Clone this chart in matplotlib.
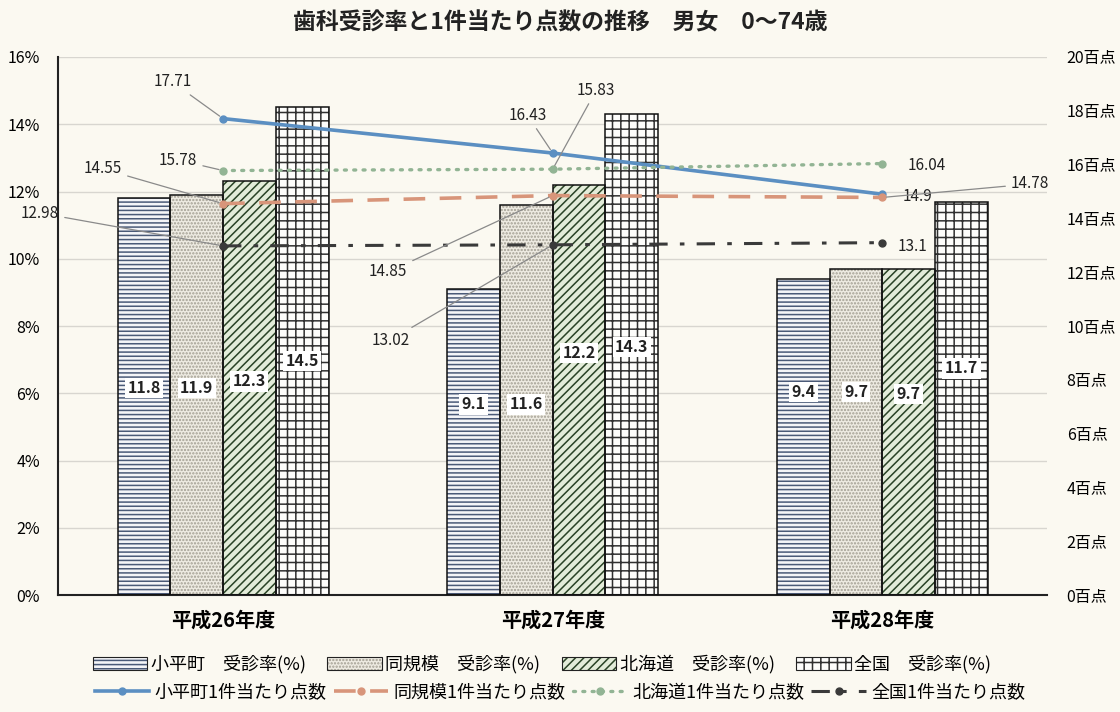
import numpy as np
import matplotlib
matplotlib.use('Agg')
import matplotlib.pyplot as plt
from matplotlib.patches import Patch
from matplotlib.legend_handler import HandlerTuple

plt.rcParams['font.family'] = ['Noto Sans CJK JP', 'DejaVu Sans']
plt.rcParams['hatch.linewidth'] = 1.1

years = ['平成26年度', '平成27年度', '平成28年度']

# 受診率(%)
rate_kohira = [11.8, 9.1, 9.4]
rate_same = [11.9, 11.6, 9.7]
rate_hokkaido = [12.3, 12.2, 9.7]
rate_zenkoku = [14.5, 14.3, 11.7]

# 1件当たり点数(百点)
pts_kohira = [17.71, 16.43, 14.9]
pts_same = [14.55, 14.85, 14.78]
pts_hokkaido = [15.78, 15.83, 16.04]
pts_zenkoku = [12.98, 13.02, 13.1]

# heights (%) where the bar value labels sit
rate_label_y = [[6.16, 5.68, 6.04],
                [6.16, 5.68, 6.04],
                [6.36, 7.20, 5.98],
                [6.96, 7.38, 6.75]]

bg = '#fbf9f1'
fig = plt.figure(figsize=(11.2, 7.12), dpi=100, facecolor=bg)
ax = fig.add_axes([0.052, 0.164, 0.883, 0.756], facecolor=bg)
ax2 = ax.twinx()

x = np.arange(len(years))
w = 0.16
bar_styles = [
    # face, hatch colour, hatch
    ('#f4f5f8', '#4a5a78', '----'),
    ('#eeebe2', '#a29e92', '.....'),
    ('#e3ecd9', '#2a4326', '////'),
    ('#fdfdfb', '#303030', '++'),
]
rates = [rate_kohira, rate_same, rate_hokkaido, rate_zenkoku]
for i, (vals, (fc, hc, h)) in enumerate(zip(rates, bar_styles)):
    pos = x + (i - 1.5) * w
    ax.bar(pos, vals, w, color=fc, edgecolor=hc, hatch=h, lw=0, zorder=2)
    ax.bar(pos, vals, w, color='none', edgecolor='#111111', lw=1.1, zorder=3)
    for j in range(len(x)):
        ax.text(pos[j], rate_label_y[i][j], f'{vals[j]}', ha='center', va='center',
                fontsize=11.5, fontweight='bold', color='#222222', zorder=4,
                bbox=dict(boxstyle='square,pad=0.15', fc='white', ec='none'))

ax.set_xlim(-0.5, 2.5)
ax.set_ylim(0, 16)
ax.set_yticks(np.arange(0, 17, 2))
ax.set_yticklabels([f'{v}%' for v in range(0, 17, 2)])
ax.set_xticks(x)
ax.set_xticklabels(years, fontsize=14.5, fontweight='bold')
ax.tick_params(axis='x', length=0, pad=10)
ax.tick_params(axis='y', length=0, labelsize=11.5, pad=13)
ax.grid(axis='y', color='#d8d6d0', lw=1)
ax.set_axisbelow(True)
for s in ['top', 'right']:
    ax.spines[s].set_visible(False)
for s in ['left', 'bottom']:
    ax.spines[s].set_color('#222222')
    ax.spines[s].set_linewidth(1.5)

# lines on the right axis
l1, = ax2.plot(x, pts_kohira, color='#5b8fc2', lw=2.6, marker='o', ms=5, zorder=5)
l2, = ax2.plot(x, pts_same, color='#d8957a', lw=2.6, marker='o', ms=5,
               dashes=(6, 4), zorder=5)
l3, = ax2.plot(x, pts_hokkaido, color='#92b494', lw=2.4, marker='o', ms=5,
               dashes=(0.6, 2.2), dash_capstyle='round', zorder=5)
l4, = ax2.plot(x, pts_zenkoku, color='#3a3a3a', lw=2.2, marker='o', ms=5,
               dashes=(6, 4, 1.5, 4), zorder=5)
ax2.set_ylim(0, 20)
ax2.set_yticks(np.arange(0, 21, 2))
ax2.set_yticklabels([f'{v}百点' for v in range(0, 21, 2)])
ax2.tick_params(axis='y', length=0, labelsize=11.5, pad=14)
for s in ax2.spines.values():
    s.set_visible(False)

# value labels for the lines
lead = dict(arrowstyle='-', color='#8a8a8a', lw=0.9, shrinkA=2, shrinkB=3)
ann = [
    (pts_kohira, 0, (-0.154, 19.07), True),
    (pts_kohira, 1, (0.923, 17.84), True),
    (pts_kohira, 2, (2.108, 14.80), False),
    (pts_same, 0, (-0.364, 15.84), True),
    (pts_same, 1, (0.501, 12.01), True),
    (pts_same, 2, (2.448, 15.28), True),
    (pts_hokkaido, 0, (-0.136, 16.17), True),
    (pts_hokkaido, 1, (1.132, 18.77), True),
    (pts_hokkaido, 2, (2.136, 15.95), False),
    (pts_zenkoku, 0, (-0.555, 14.20), True),
    (pts_zenkoku, 1, (0.507, 9.48), True),
    (pts_zenkoku, 2, (2.09, 12.94), False),
]
for vals, j, xy, leader in ann:
    ax2.annotate(f'{vals[j]}', xy=(x[j], vals[j]), xytext=xy, ha='center', va='center',
                 fontsize=11, color='#222222', annotation_clip=False, zorder=6,
                 arrowprops=lead if leader else None)

fig.text(0.5, 0.968, '歯科受診率と1件当たり点数の推移　男女　0～74歳', ha='center', va='center',
         fontsize=16.5, fontweight='bold', color='#222222')

# legend: bars on the first row, lines on the second
bar_names = ['小平町　受診率(%)', '同規模　受診率(%)', '北海道　受診率(%)', '全国　受診率(%)']
bar_handles = [(Patch(facecolor=fc, edgecolor=hc, hatch=h, lw=0),
                Patch(facecolor='none', edgecolor='#222222', lw=0.8))
               for fc, hc, h in bar_styles]
fig.legend(bar_handles, bar_names, handler_map={tuple: HandlerTuple(ndivide=1)},
           loc='center', bbox_to_anchor=(0.484, 0.067), ncol=4, frameon=False,
           fontsize=13, handlelength=3.0, handleheight=0.7, handletextpad=0.2,
           columnspacing=1.2)
line_names = ['小平町1件当たり点数', '同規模1件当たり点数', '北海道1件当たり点数', '全国1件当たり点数']
fig.legend([l1, l2, l3, l4], line_names, loc='center', bbox_to_anchor=(0.5, 0.027),
           ncol=4, frameon=False, fontsize=13, handlelength=3.0, handletextpad=0.3,
           columnspacing=0.4)

fig.savefig('out.png', dpi=100, facecolor=bg)
